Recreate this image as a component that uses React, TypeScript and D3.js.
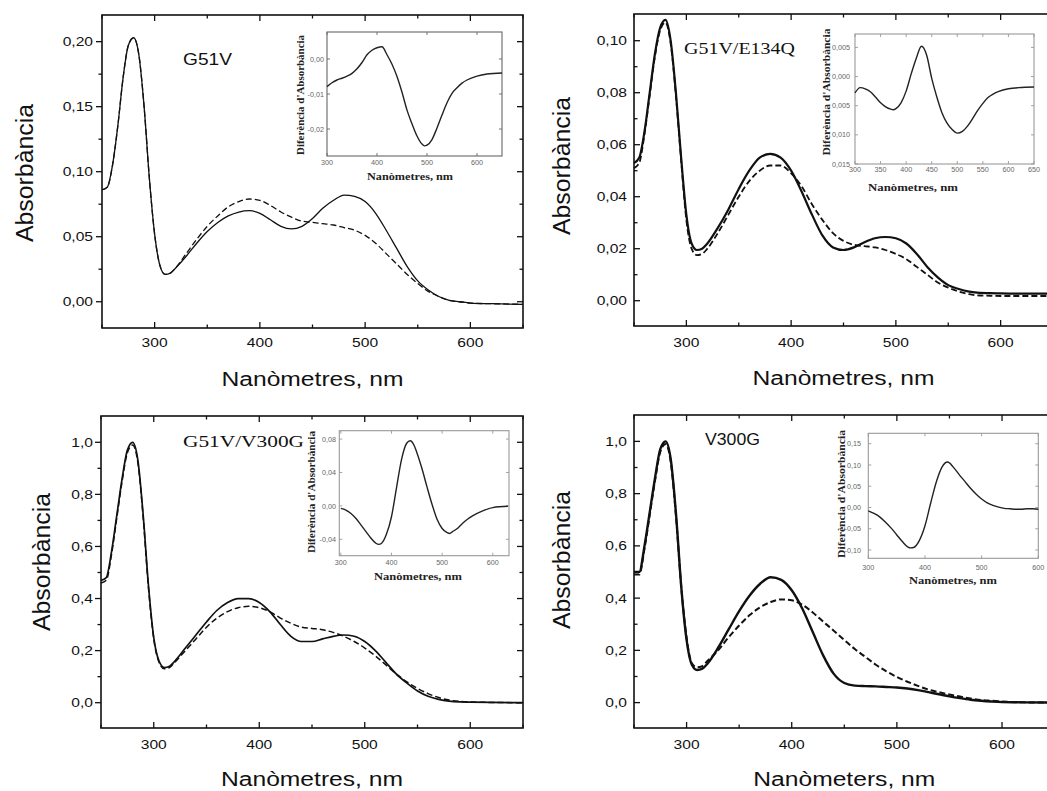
import React from 'react';
import * as d3 from 'd3';

// ---------- DATA ----------
const wavelengths = [250,255,260,265,270,275,280,285,290,295,300,305,310,315,320,330,340,350,360,370,380,390,400,410,420,430,440,450,460,470,480,490,500,510,520,530,540,550,560,570,580,590,600,620,650];

const g51vSolid = [0.086,0.088,0.105,0.135,0.172,0.197,0.203,0.190,0.150,0.095,0.052,0.028,0.021,0.022,0.026,0.035,0.045,0.054,0.061,0.066,0.069,0.070,0.068,0.063,0.058,0.056,0.058,0.064,0.072,0.078,0.082,0.081,0.077,0.068,0.055,0.041,0.027,0.016,0.009,0.004,0.001,0.000,-0.001,-0.0015,-0.002];
const g51vDashed = [0.086,0.088,0.105,0.135,0.172,0.197,0.203,0.190,0.150,0.095,0.052,0.028,0.021,0.022,0.026,0.037,0.048,0.058,0.066,0.073,0.077,0.079,0.078,0.074,0.069,0.065,0.062,0.061,0.060,0.059,0.057,0.055,0.051,0.045,0.037,0.029,0.021,0.014,0.008,0.004,0.001,0.000,-0.001,-0.0015,-0.002];

const e134qSolid = [0.053,0.055,0.065,0.080,0.095,0.105,0.108,0.100,0.080,0.055,0.033,0.022,0.0195,0.020,0.022,0.028,0.035,0.043,0.050,0.055,0.0565,0.055,0.050,0.042,0.033,0.025,0.0205,0.0195,0.0205,0.0225,0.024,0.0245,0.024,0.022,0.018,0.013,0.009,0.006,0.0045,0.0035,0.003,0.0029,0.0028,0.0027,0.0027];
const e134qDashed = [0.051,0.053,0.064,0.079,0.094,0.104,0.107,0.099,0.079,0.054,0.031,0.020,0.0175,0.018,0.020,0.026,0.033,0.040,0.046,0.050,0.052,0.052,0.049,0.044,0.037,0.031,0.026,0.023,0.0215,0.021,0.0205,0.0195,0.018,0.016,0.013,0.010,0.007,0.005,0.0035,0.0025,0.002,0.0019,0.0018,0.0018,0.0018];

const v300gDoubleSolid = [0.47,0.48,0.58,0.72,0.86,0.97,1.00,0.93,0.72,0.45,0.25,0.16,0.135,0.14,0.16,0.21,0.26,0.31,0.355,0.385,0.40,0.40,0.385,0.35,0.30,0.255,0.235,0.235,0.245,0.255,0.26,0.255,0.235,0.20,0.155,0.11,0.075,0.045,0.025,0.013,0.006,0.003,0.002,0.001,0.0];
const v300gDoubleDashed = [0.46,0.47,0.57,0.71,0.85,0.96,0.99,0.92,0.71,0.44,0.245,0.155,0.13,0.135,0.155,0.20,0.245,0.29,0.325,0.35,0.365,0.37,0.365,0.35,0.325,0.305,0.29,0.285,0.28,0.27,0.255,0.235,0.21,0.18,0.145,0.11,0.08,0.055,0.035,0.02,0.01,0.005,0.003,0.001,0.0];

const v300gSolid = [0.50,0.50,0.60,0.73,0.86,0.97,1.00,0.93,0.72,0.44,0.24,0.145,0.125,0.13,0.15,0.21,0.28,0.35,0.41,0.455,0.48,0.47,0.43,0.36,0.27,0.18,0.11,0.075,0.065,0.063,0.062,0.06,0.058,0.054,0.048,0.04,0.032,0.024,0.017,0.011,0.007,0.004,0.002,0.001,0.0];
const v300gDashed = [0.49,0.49,0.59,0.72,0.85,0.96,0.99,0.92,0.71,0.44,0.25,0.15,0.135,0.14,0.16,0.20,0.25,0.295,0.335,0.365,0.385,0.395,0.392,0.375,0.345,0.31,0.275,0.24,0.205,0.175,0.145,0.12,0.098,0.08,0.064,0.05,0.04,0.031,0.023,0.016,0.01,0.007,0.004,0.001,0.0];

const diff1Wl = [300,310,320,330,340,350,360,370,380,390,400,410,420,430,440,450,460,470,480,490,495,500,510,520,530,540,550,560,570,580,600,620,650];
const diff1 = [-0.0079,-0.0068,-0.0060,-0.0055,-0.0049,-0.0041,-0.0028,-0.0010,0.0012,0.0025,0.0032,0.0035,0.0012,-0.0015,-0.0050,-0.0095,-0.0146,-0.0185,-0.0220,-0.0243,-0.0248,-0.0246,-0.0230,-0.0197,-0.0160,-0.0125,-0.0098,-0.0082,-0.0069,-0.0060,-0.0049,-0.0043,-0.0040];

const diff2Wl = [300,310,320,330,340,350,360,370,375,380,390,400,410,420,430,440,450,460,470,480,490,500,510,520,530,540,550,560,570,580,600,620,650];
const diff2 = [-0.0028,-0.0019,-0.0021,-0.0026,-0.0035,-0.0045,-0.0052,-0.0056,-0.0057,-0.0055,-0.0045,-0.0025,0.0005,0.0032,0.0052,0.0037,-0.0003,-0.0035,-0.0062,-0.0080,-0.0091,-0.0097,-0.0094,-0.0085,-0.0072,-0.0058,-0.0046,-0.0036,-0.0030,-0.0026,-0.0021,-0.0019,-0.0018];

const diff3Wl = [300,310,320,330,340,350,360,370,375,380,390,400,410,420,430,437,445,450,460,470,480,490,500,510,515,520,530,540,550,560,580,600,630];
const diff3 = [-0.003,-0.005,-0.009,-0.015,-0.023,-0.031,-0.039,-0.045,-0.046,-0.045,-0.034,-0.013,0.022,0.056,0.075,0.078,0.072,0.064,0.045,0.023,0.002,-0.016,-0.027,-0.032,-0.033,-0.031,-0.027,-0.021,-0.016,-0.012,-0.006,-0.002,-0.0005];

const diff4Wl = [300,310,320,330,340,350,360,370,375,380,390,400,410,420,430,440,450,460,470,480,490,500,510,520,530,540,550,560,570,580,590,600];
const diff4 = [-0.008,-0.014,-0.022,-0.034,-0.048,-0.064,-0.080,-0.093,-0.095,-0.094,-0.078,-0.043,0.010,0.060,0.095,0.107,0.095,0.078,0.062,0.046,0.032,0.020,0.011,0.005,0.001,-0.002,-0.003,-0.004,-0.004,-0.003,-0.003,-0.004];

const mainXTicks = [300,400,500,600];
const mainXMinor = [250,350,450,550,650];
const ticksSmall = [0,0.05,0.10,0.15,0.20];
const ticksSmallMinor = [0.025,0.075,0.125,0.175];
const ticksTiny = [0,0.02,0.04,0.06,0.08,0.10];
const ticksTinyMinor = [0.01,0.03,0.05,0.07,0.09];
const ticksUnit = [0,0.2,0.4,0.6,0.8,1.0];
const ticksUnitMinor = [0.1,0.3,0.5,0.7,0.9];

const inset1YTicks = [-0.02,-0.01,0];
const inset2YTicks = [-0.015,-0.01,-0.005,0,0.005];
const inset3YTicks = [-0.04,0,0.04,0.08];
const inset4YTicks = [-0.10,-0.05,0,0.05,0.10,0.15];
const insetXTicks100 = [300,400,500,600];
const insetXTicks50 = [300,350,400,450,500,550,600,650];

const titles = ['G51V','G51V/E134Q','G51V/V300G','V300G'];
const yTitle = 'Absorbància';
const xTitles = ['Nanòmetres, nm','Nanòmetres, nm','Nanòmetres, nm','Nanòmeters, nm'];
const insetYTitle = "Diferència d'Absorbància";
const insetXTitle = 'Nanòmetres, nm';

// ---------- HELPERS ----------
const SANS = '"Liberation Sans", Arial, sans-serif';
const SERIF = '"Liberation Serif", "Times New Roman", serif';

function numW(s: string, f: number) {
  let w = 0;
  for (const c of s) w += (c === ',' || c === '.') ? 0.278 : c === '-' ? 0.333 : 0.556;
  return w * f;
}
const fmt = (d: number, signed = true) => (v: number) =>
  ((signed && v < -1e-9) ? '-' : '') + Math.abs(v).toFixed(d).replace('.', ',');

type Series = { xs: number[]; ys: number[]; dashed?: boolean; width: number };

interface PanelCfg {
  left: number; right: number; top: number; bottom: number;
  xDomain: [number, number]; yDomain: [number, number];
  yTicks: number[]; yMinor: number[]; yFmt: (v: number) => string;
  yTickOut: boolean; yLabelRight: number; xLabelBase: number;
  xTitle: string; xTitleBase: number;
  yTitleX: number; yTitleY: number;
  title: string; titleX: number; titleY: number; titleFont: string; titleLen: number;
  series: Series[];
}

function Panel({ c }: { c: PanelCfg }) {
  const x = d3.scaleLinear().domain(c.xDomain).range([c.left, c.right]);
  const y = d3.scaleLinear().domain(c.yDomain).range([c.bottom, c.top]);
  const line = d3.line<[number, number]>().x(d => x(d[0])).y(d => y(d[1])).curve(d3.curveMonotoneX);
  const L = 6, Lm = 3.5;
  const els: React.ReactNode[] = [];
  mainXTicks.forEach((t, i) => {
    els.push(<line key={'xb' + i} x1={x(t)} x2={x(t)} y1={c.bottom} y2={c.bottom - L} />);
    els.push(<line key={'xt' + i} x1={x(t)} x2={x(t)} y1={c.top} y2={c.top + L} />);
  });
  mainXMinor.forEach((t, i) => {
    els.push(<line key={'xbm' + i} x1={x(t)} x2={x(t)} y1={c.bottom} y2={c.bottom - Lm} />);
    els.push(<line key={'xtm' + i} x1={x(t)} x2={x(t)} y1={c.top} y2={c.top + Lm} />);
  });
  c.yTicks.forEach((t, i) => {
    const yy = y(t);
    els.push(<line key={'yl' + i} x1={c.left} x2={c.yTickOut ? c.left - L : c.left + L} y1={yy} y2={yy} />);
    els.push(<line key={'yr' + i} x1={c.right} x2={c.right - L} y1={yy} y2={yy} />);
  });
  c.yMinor.forEach((t, i) => {
    const yy = y(t);
    els.push(<line key={'ylm' + i} x1={c.left} x2={c.yTickOut ? c.left - Lm : c.left + Lm} y1={yy} y2={yy} />);
    els.push(<line key={'yrm' + i} x1={c.right} x2={c.right - Lm} y1={yy} y2={yy} />);
  });
  return (
    <g>
      {c.series.map((s, i) => (
        <path key={'s' + i} d={line(s.xs.map((v, j) => [v, s.ys[j]] as [number, number])) || ''}
          fill="none" stroke="#111" strokeWidth={s.width} strokeDasharray={s.dashed ? '6,3' : undefined}
          strokeLinejoin="round" />
      ))}
      <rect x={c.left} y={c.top} width={c.right - c.left} height={c.bottom - c.top} fill="none" stroke="#111" strokeWidth={1.6} />
      <g stroke="#111" strokeWidth={1.3}>{els}</g>
      <g fontFamily={SANS} fontSize={13} fill="#111">
        {mainXTicks.map((t, i) => {
          const s = String(t);
          return <text key={'xl' + i} x={x(t)} y={c.xLabelBase} textAnchor="middle" textLength={numW(s, 13) * 1.2} lengthAdjust="spacingAndGlyphs">{s}</text>;
        })}
        {c.yTicks.map((t, i) => {
          const s = c.yFmt(t);
          return <text key={'yl' + i} x={c.yLabelRight} y={y(t) + 4.5} textAnchor="end" textLength={numW(s, 13) * 1.2} lengthAdjust="spacingAndGlyphs">{s}</text>;
        })}
      </g>
      <text x={(c.left + c.right) / 2} y={c.xTitleBase} textAnchor="middle" fontFamily={SANS} fontSize={20} fill="#111"
        textLength={182} lengthAdjust="spacingAndGlyphs">{c.xTitle}</text>
      <text transform={`translate(${c.yTitleX},${c.yTitleY}) rotate(-90)`} textAnchor="middle" fontFamily={SANS} fontSize={23} fill="#111"
        textLength={138} lengthAdjust="spacingAndGlyphs">{yTitle}</text>
      <text x={c.titleX} y={c.titleY} fontFamily={c.titleFont} fontSize={17} fill="#111"
        textLength={c.titleLen} lengthAdjust="spacingAndGlyphs">{c.title}</text>
    </g>
  );
}

interface InsetCfg {
  left: number; right: number; top: number; bottom: number;
  xDomain: [number, number]; yDomain: [number, number];
  xTicks: number[]; yTicks: number[]; yFmt: (v: number) => string;
  xLabelBase: number; yLabelRight: number;
  xTitleX: number; xTitleBase: number; xTitleLen: number;
  yTitleX: number; yTitleY: number; yTitleLen: number;
  frame: string; xs: number[]; ys: number[];
}

function Inset({ c }: { c: InsetCfg }) {
  const x = d3.scaleLinear().domain(c.xDomain).range([c.left, c.right]);
  const y = d3.scaleLinear().domain(c.yDomain).range([c.bottom, c.top]);
  const line = d3.line<[number, number]>().x(d => x(d[0])).y(d => y(d[1])).curve(d3.curveMonotoneX);
  const L = 3;
  return (
    <g>
      <rect x={c.left} y={c.top} width={c.right - c.left} height={c.bottom - c.top} fill="#fff" stroke={c.frame} strokeWidth={1.1} />
      <g stroke={c.frame} strokeWidth={0.9}>
        {c.xTicks.map((t, i) => (
          <g key={'xt' + i}>
            <line x1={x(t)} x2={x(t)} y1={c.bottom} y2={c.bottom - L} />
            <line x1={x(t)} x2={x(t)} y1={c.top} y2={c.top + L} />
          </g>
        ))}
        {c.yTicks.map((t, i) => (
          <g key={'yt' + i}>
            <line x1={c.left} x2={c.left + L} y1={y(t)} y2={y(t)} />
            <line x1={c.right} x2={c.right - L} y1={y(t)} y2={y(t)} />
          </g>
        ))}
      </g>
      <path d={line(c.xs.map((v, j) => [v, c.ys[j]] as [number, number])) || ''} fill="none" stroke="#222" strokeWidth={1.4} strokeLinejoin="round" />
      <g fontFamily={SANS} fontSize={7.2} fill="#666">
        {c.xTicks.map((t, i) => (
          <text key={'xl' + i} x={x(t)} y={c.xLabelBase} textAnchor="middle">{String(t)}</text>
        ))}
        {c.yTicks.map((t, i) => (
          <text key={'yl' + i} x={c.yLabelRight} y={y(t) + 2.6} textAnchor="end">{c.yFmt(t)}</text>
        ))}
      </g>
      <text x={c.xTitleX} y={c.xTitleBase} textAnchor="middle" fontFamily={SERIF} fontWeight="bold" fontSize={10} fill="#222"
        textLength={c.xTitleLen} lengthAdjust="spacingAndGlyphs">{insetXTitle}</text>
      <text transform={`translate(${c.yTitleX},${c.yTitleY}) rotate(-90)`} textAnchor="middle" fontFamily={SERIF} fontWeight="bold" fontSize={10} fill="#222"
        textLength={c.yTitleLen} lengthAdjust="spacingAndGlyphs">{insetYTitle}</text>
    </g>
  );
}

const panels: PanelCfg[] = [
  {
    left: 102, right: 523, top: 15, bottom: 328, xDomain: [250, 650], yDomain: [-0.0202, 0.2205],
    yTicks: ticksSmall, yMinor: ticksSmallMinor, yFmt: fmt(2), yTickOut: true, yLabelRight: 93, xLabelBase: 347,
    xTitle: xTitles[0], xTitleBase: 386, yTitleX: 33, yTitleY: 173,
    title: titles[0], titleX: 183, titleY: 65, titleFont: SANS, titleLen: 49,
    series: [{ xs: wavelengths, ys: g51vSolid, width: 1.3 }, { xs: wavelengths, ys: g51vDashed, dashed: true, width: 1.3 }],
  },
  {
    left: 634, right: 1053, top: 14, bottom: 326, xDomain: [250, 650], yDomain: [-0.00973, 0.11027],
    yTicks: ticksTiny, yMinor: ticksTinyMinor, yFmt: fmt(2), yTickOut: false, yLabelRight: 627, xLabelBase: 347,
    xTitle: xTitles[1], xTitleBase: 385, yTitleX: 570, yTitleY: 166,
    title: titles[1], titleX: 684, titleY: 54, titleFont: SERIF, titleLen: 111,
    series: [{ xs: wavelengths, ys: e134qSolid, width: 2.2 }, { xs: wavelengths, ys: e134qDashed, dashed: true, width: 1.8 }],
  },
  {
    left: 101, right: 523, top: 416, bottom: 728, xDomain: [250, 650], yDomain: [-0.0972, 1.101],
    yTicks: ticksUnit, yMinor: ticksUnitMinor, yFmt: fmt(1), yTickOut: true, yLabelRight: 93, xLabelBase: 749,
    xTitle: xTitles[2], xTitleBase: 786, yTitleX: 50, yTitleY: 562,
    title: titles[2], titleX: 183, titleY: 447, titleFont: SERIF, titleLen: 121,
    series: [{ xs: wavelengths, ys: v300gDoubleSolid, width: 1.7 }, { xs: wavelengths, ys: v300gDoubleDashed, dashed: true, width: 1.5 }],
  },
  {
    left: 634, right: 1054.6, top: 415, bottom: 728, xDomain: [250, 650], yDomain: [-0.0972, 1.101],
    yTicks: ticksUnit, yMinor: ticksUnitMinor, yFmt: fmt(1), yTickOut: false, yLabelRight: 627, xLabelBase: 749,
    xTitle: xTitles[3], xTitleBase: 786, yTitleX: 570, yTitleY: 560,
    title: titles[3], titleX: 705, titleY: 445, titleFont: SANS, titleLen: 55,
    series: [{ xs: wavelengths, ys: v300gSolid, width: 2.4 }, { xs: wavelengths, ys: v300gDashed, dashed: true, width: 2.0 }],
  },
];

const insets: InsetCfg[] = [
  {
    left: 327, right: 502, top: 32, bottom: 156, xDomain: [300, 650], yDomain: [-0.0277, 0.0077],
    xTicks: insetXTicks100, yTicks: inset1YTicks, yFmt: fmt(2), xLabelBase: 165, yLabelRight: 324,
    xTitleX: 410, xTitleBase: 180, xTitleLen: 86, yTitleX: 304, yTitleY: 95, yTitleLen: 120,
    frame: '#666', xs: diff1Wl, ys: diff1,
  },
  {
    left: 855, right: 1034, top: 34, bottom: 164, xDomain: [300, 650], yDomain: [-0.015, 0.0073],
    xTicks: insetXTicks50, yTicks: inset2YTicks, yFmt: fmt(3, false), xLabelBase: 172, yLabelRight: 850,
    xTitleX: 913, xTitleBase: 191, xTitleLen: 90, yTitleX: 830, yTitleY: 92, yTitleLen: 127,
    frame: '#999', xs: diff2Wl, ys: diff2,
  },
  {
    left: 339.3, right: 509, top: 430.7, bottom: 555.7, xDomain: [297, 632], yDomain: [-0.0596, 0.09],
    xTicks: insetXTicks100, yTicks: inset3YTicks, yFmt: fmt(2), xLabelBase: 565, yLabelRight: 336,
    xTitleX: 418, xTitleBase: 580, xTitleLen: 88, yTitleX: 315, yTitleY: 492, yTitleLen: 122,
    frame: '#999', xs: diff3Wl, ys: diff3,
  },
  {
    left: 868.3, right: 1038.3, top: 433.3, bottom: 558.3, xDomain: [300, 600], yDomain: [-0.1195, 0.1745],
    xTicks: insetXTicks100, yTicks: inset4YTicks, yFmt: fmt(2), xLabelBase: 570, yLabelRight: 861,
    xTitleX: 953, xTitleBase: 584, xTitleLen: 88, yTitleX: 845, yTitleY: 494, yTitleLen: 128,
    frame: '#999', xs: diff4Wl, ys: diff4,
  },
];

export default function App() {
  return (
    <svg width={1047} height={791} style={{ position: 'absolute', left: 0, top: 0, background: '#fff' }}>
      <rect x={0} y={0} width={1047} height={791} fill="#fff" />
      {panels.map((p, i) => <Panel key={'p' + i} c={p} />)}
      {insets.map((p, i) => <Inset key={'i' + i} c={p} />)}
    </svg>
  );
}
